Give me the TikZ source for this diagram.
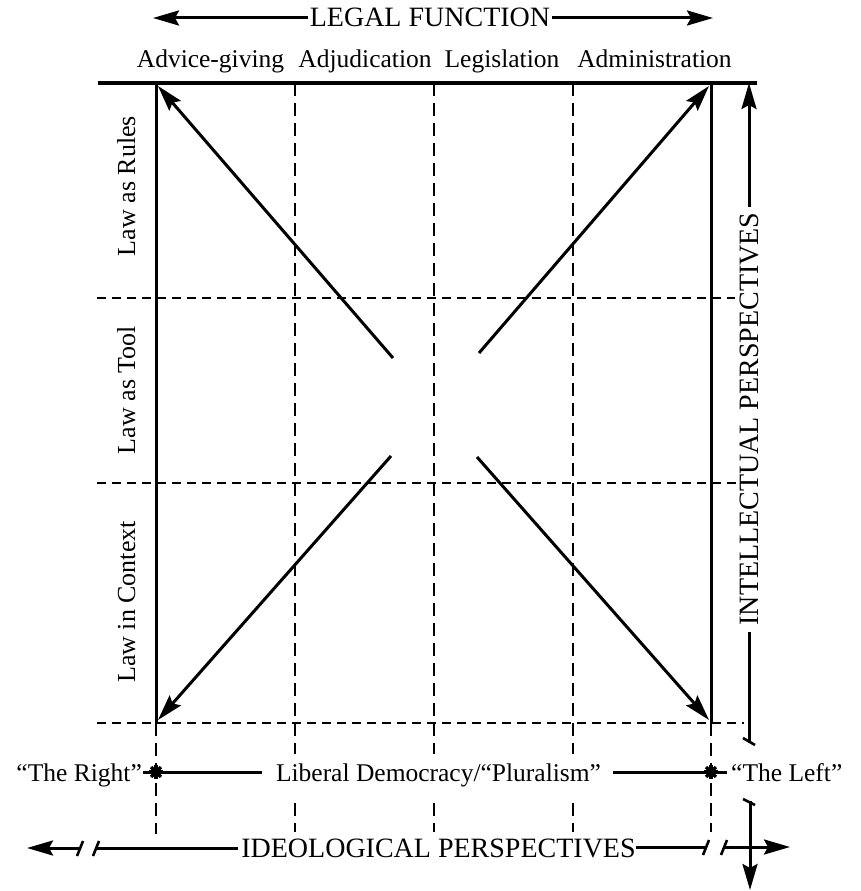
\documentclass[tikz,border=0pt]{standalone}
\usepackage{fontspec}
\setmainfont{Liberation Serif}
\usetikzlibrary{arrows.meta}
\begin{document}
\begin{tikzpicture}[x=1pt,y=-1pt,
  solidline/.style={line width=3pt},
  hdash/.style={line width=2.4pt, dash pattern=on 9pt off 6pt},
  vdash/.style={line width=2.4pt, dash pattern=on 13pt off 7pt},
  tipline/.style={line width=3pt,-{Stealth[length=26pt,width=15pt,inset=4pt]}},
  axisline/.style={line width=3pt},
  ticks/.style={line width=2.6pt},
  lbl/.style={font=\fontsize{25.5}{30}\selectfont, inner sep=0pt, anchor=base},
  biglbl/.style={font=\fontsize{28}{32}\selectfont, inner sep=0pt, anchor=base},
  rowlbl/.style={font=\fontsize{26}{30}\selectfont, inner sep=0pt, anchor=base, rotate=90},
  starline/.style={line width=3.4pt}
]
\useasboundingbox (0,0) rectangle (860,891);

% ---- coordinates of the grid
\coordinate (TL) at (156,83);
\coordinate (TR) at (711,83);
\coordinate (BL) at (156,723);
\coordinate (BR) at (711,723);

% ---- top title
\node[biglbl] (legal) at (430,27) {LEGAL FUNCTION};
\coordinate (legalL) at (153,18);
\coordinate (legalR) at (713,18);
\draw[tipline] (legal.west |- 0,18) ++(-2,0) -- (legalL);
\draw[tipline] (legal.east |- 0,18) ++(2,0) -- (legalR);

% ---- column labels
\node[lbl] (c1) at (210.5,67) {Advice-giving};
\node[lbl] (c2) at (365,67) {Adjudication};
\node[lbl] (c3) at (502,67) {Legislation};
\node[lbl] (c4) at (654.5,67) {Administration};

% ---- row labels
\node[rowlbl] (r1) at (135,186) {Law as Rules};
\node[rowlbl] (r2) at (135,390) {Law as Tool};
\node[rowlbl] (r3) at (135,602) {Law in Context};

% ---- dashed grid
\foreach \yy/\xe in {298/735,483/737,723/744}{
  \draw[hdash] (97,\yy) -- (\xe,\yy);
}
\foreach \xx in {295,434,573}{
  \draw[vdash] (\xx,83) -- (\xx,832);
}
\draw[vdash] (BL) -- (156,834);
\draw[vdash] (BR) -- (711,832);

% ---- solid frame
\draw[line width=3.4pt] (98,83) -- (757,83);
\draw[solidline] (TL) -- (BL);
\draw[solidline] (TR) -- (BR);

% ---- diagonal arrows
\coordinate (a1) at (393,358);
\coordinate (a2) at (479,353);
\coordinate (a3) at (391,456);
\coordinate (a4) at (477,457);
\draw[tipline] (a1) -- ([shift={(2,3)}]TL);
\draw[tipline] (a2) -- ([shift={(-2,3)}]TR);
\draw[tipline] (a3) -- ([shift={(2,-3)}]BL);
\draw[tipline] (a4) -- ([shift={(-2,-3)}]BR);

% ---- intellectual perspectives axis
\node[biglbl, rotate=90] (intel) at (758,419) {INTELLECTUAL PERSPECTIVES};
\coordinate (iTop) at (749,83);
\coordinate (iUp) at (749,207);
\coordinate (iLo1) at (749,632);
\coordinate (iLo2) at (749,743);
\draw[tipline] (iUp) -- (iTop);
\draw[axisline] (iLo1) -- (iLo2);
\draw[ticks] (743,738) -- (755,745);

% ---- ideological line: The Right / Liberal Democracy / The Left
\node[lbl, anchor=base east] (right) at (142,781) {``The Right''};
\node[lbl, fill=white, inner xsep=2pt, inner ysep=9pt] (lib) at (438.5,781) {Liberal Democracy/``Pluralism''};
\node[lbl, anchor=base west] (left) at (731,781) {``The Left''};
\coordinate (sR) at (156,772);
\coordinate (sL) at (711,772);
\draw[axisline] (143,772) -- (262,772);
\draw[axisline] (613,772) -- (727,772);
\foreach \s in {sR,sL}{
  \foreach \a in {0,45,90,135}{
    \draw[starline] ([shift={(\a:7)}]\s) -- ([shift={(\a+180:7)}]\s);
  }
  \fill (\s) circle (3.5);
}

% ---- ideological perspectives axis
\node[biglbl] (ideo) at (438.5,857) {IDEOLOGICAL PERSPECTIVES};
\coordinate (hL1) at (27,848);
\coordinate (hL2) at (80,848);
\coordinate (hL3) at (96,848);
\coordinate (hL4) at (238,848);
\draw[tipline] (hL2) -- (hL1);
\draw[axisline] (hL3) -- (hL4);
\draw[ticks] (77,856) -- (83,841);
\draw[ticks] (93,856) -- (99,841);

\coordinate (hR1) at (636,847);
\coordinate (hR2) at (706,847);
\coordinate (hR3) at (724,847);
\coordinate (hR4) at (790,847);
\draw[axisline] (hR1) -- (hR2);
\draw[tipline] (hR3) -- (hR4);
\draw[ticks] (703,855) -- (709,840);
\draw[ticks] (721,855) -- (727,840);

% vertical continuation
\coordinate (vD1) at (750,801);
\coordinate (vD2) at (750,890);
\draw[tipline] (vD1) -- (vD2);
\draw[ticks] (743,799) -- (755,805);
\end{tikzpicture}
\end{document}
